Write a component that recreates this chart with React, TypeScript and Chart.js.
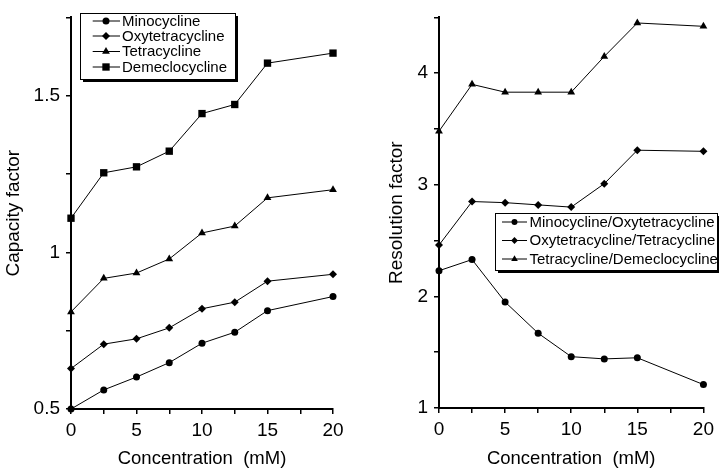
import React, { useEffect, useRef } from 'react';
import { Chart, registerables } from 'chart.js';
import { drawPoint } from 'chart.js/helpers';

Chart.register(...registerables);

// ---- data ----
const concentration = [0, 2.5, 5, 7.5, 10, 12.5, 15, 20];

const minocycline = [0.5, 0.561, 0.602, 0.648, 0.71, 0.745, 0.814, 0.859];
const oxytetracycline = [0.629, 0.707, 0.724, 0.759, 0.82, 0.841, 0.908, 0.93];
const tetracycline = [0.81, 0.917, 0.934, 0.979, 1.062, 1.084, 1.174, 1.2];
const demeclocycline = [1.109, 1.254, 1.273, 1.323, 1.443, 1.472, 1.604, 1.636];

const minoOxy = [2.23, 2.33, 1.95, 1.67, 1.46, 1.44, 1.45, 1.21];
const oxyTetra = [2.46, 2.85, 2.84, 2.82, 2.8, 3.01, 3.31, 3.3];
const tetraDeme = [3.48, 3.9, 3.83, 3.83, 3.83, 4.15, 4.45, 4.42];

const leftLabels = ['Minocycline', 'Oxytetracycline', 'Tetracycline', 'Demeclocycline'];
const rightLabels = ['Minocycline/Oxytetracycline', 'Oxytetracycline/Tetracycline', 'Tetracycline/Demeclocycline'];

const xTitle = 'Concentration  (mM)';
const leftYTitle = 'Capacity factor';
const rightYTitle = 'Resolution factor';

const FONT = '"Liberation Sans", Arial, Helvetica, sans-serif';

const pts = (ys: number[]) => concentration.map((x, i) => ({ x, y: ys[i] }));

function ds(label: string, ys: number[], style: string, radius: number) {
  return {
    label,
    data: pts(ys),
    borderColor: '#000',
    borderWidth: 1,
    backgroundColor: '#000',
    pointBackgroundColor: '#000',
    pointBorderColor: '#000',
    pointBorderWidth: 0,
    pointStyle: style,
    pointRadius: radius,
    tension: 0,
    clip: false as any,
  };
}

function legendPlugin(box: any) {
  return {
    id: 'boxLegend',
    afterDraw(chart: any) {
      const ctx = chart.ctx as CanvasRenderingContext2D;
      ctx.save();
      ctx.fillStyle = '#000';
      ctx.fillRect(box.x + 3, box.y + 3, box.w, box.h);
      ctx.fillStyle = '#fff';
      ctx.fillRect(box.x, box.y, box.w, box.h);
      ctx.strokeStyle = '#000';
      ctx.lineWidth = 1;
      ctx.strokeRect(box.x + 0.5, box.y + 0.5, box.w, box.h);
      chart.data.datasets.forEach((d: any, i: number) => {
        const y = box.y + box.rows[i];
        ctx.strokeStyle = '#000';
        ctx.lineWidth = 1;
        ctx.beginPath();
        ctx.moveTo(box.x + box.lineFrom, y);
        ctx.lineTo(box.x + box.lineTo, y);
        ctx.stroke();
        ctx.fillStyle = '#000';
        drawPoint(ctx, { pointStyle: d.pointStyle, radius: d.pointRadius * box.markerScale, borderWidth: 0, rotation: 0 } as any, box.x + box.marker, y);
        ctx.fillStyle = '#000';
        ctx.font = `15px ${FONT}`;
        ctx.textBaseline = 'middle';
        ctx.textAlign = 'left';
        ctx.fillText(d.label, box.x + box.text, y + 0.5);
      });
      ctx.restore();
    },
  };
}

function xScale(height: number) {
  return {
    type: 'linear',
    min: 0,
    max: 20,
    afterFit: (s: any) => { s.height = height; },
    ticks: {
      stepSize: 2.5,
      autoSkip: false,
      maxRotation: 0,
      color: '#000',
      padding: 5,
      font: { family: FONT, size: 19 },
      callback: (v: any) => (Number(v) % 5 === 0 ? String(v) : ''),
    },
    grid: { display: true, drawOnChartArea: false, drawTicks: true, tickLength: 5, color: '#000', lineWidth: 1.5 },
    border: { display: true, color: '#000', width: 2 },
    title: { display: true, text: xTitle, color: '#000', font: { family: FONT, size: 18.5, lineHeight: 1 }, padding: { top: 0, bottom: 0 } },
  };
}

function yScale(min: number, max: number, step: number, labelEvery: number, title: string, titlePad: number, width: number) {
  return {
    type: 'linear',
    min,
    max,
    afterFit: (s: any) => { s.width = width; },
    ticks: {
      stepSize: step,
      autoSkip: false,
      color: '#000',
      padding: 6,
      font: { family: FONT, size: 19 },
      callback: (v: any) => {
        const r = Number(v) / labelEvery;
        return Math.abs(r - Math.round(r)) < 1e-9 ? String(v) : '';
      },
    },
    grid: { display: true, drawOnChartArea: false, drawTicks: true, tickLength: 5, color: '#000', lineWidth: 1.5 },
    border: { display: true, color: '#000', width: 2 },
    title: { display: true, text: title, color: '#000', font: { family: FONT, size: 19, lineHeight: 1 }, padding: { top: titlePad, bottom: 0 } },
  };
}

export default function App() {
  const leftRef = useRef<HTMLCanvasElement>(null);
  const rightRef = useRef<HTMLCanvasElement>(null);

  useEffect(() => {
    const c1 = new Chart(leftRef.current as HTMLCanvasElement, {
      type: 'line',
      data: {
        datasets: [
          ds(leftLabels[0], minocycline, 'circle', 3.5),
          ds(leftLabels[1], oxytetracycline, 'rectRot', 4),
          ds(leftLabels[2], tetracycline, 'triangle', 4.5),
          ds(leftLabels[3], demeclocycline, 'rect', 5.2),
        ] as any,
      },
      options: {
        responsive: false,
        animation: false,
        devicePixelRatio: 1,
        layout: { padding: { left: 0, right: 27, top: 13, bottom: 0 } },
        plugins: { legend: { display: false }, tooltip: { enabled: false } },
        scales: {
          x: xScale(59) as any,
          y: yScale(0.5, 1.75, 0.25, 0.5, leftYTitle, 4.5, 71) as any,
        },
      },
      plugins: [legendPlugin({ x: 80, y: 13, w: 155, h: 66, rows: [8, 23, 38.5, 54], lineFrom: 12.7, lineTo: 40, marker: 26, text: 42, markerScale: 1 })],
    });

    const c2 = new Chart(rightRef.current as HTMLCanvasElement, {
      type: 'line',
      data: {
        datasets: [
          ds(rightLabels[0], minoOxy, 'circle', 3.5),
          ds(rightLabels[1], oxyTetra, 'rectRot', 4),
          ds(rightLabels[2], tetraDeme, 'triangle', 4.5),
        ] as any,
      },
      options: {
        responsive: false,
        animation: false,
        devicePixelRatio: 1,
        layout: { padding: { left: 0, right: 11, top: 12, bottom: 0 } },
        plugins: { legend: { display: false }, tooltip: { enabled: false } },
        scales: {
          x: xScale(60) as any,
          y: yScale(1, 4.5, 0.5, 1, rightYTitle, 27.5, 79) as any,
        },
      },
      plugins: [legendPlugin({ x: 135, y: 213, w: 222, h: 57, rows: [9, 27.5, 46], lineFrom: 7, lineTo: 32, marker: 19.5, text: 34.5, markerScale: 0.85 })],
    });

    return () => {
      c1.destroy();
      c2.destroy();
    };
  }, []);

  return (
    <div style={{ position: 'fixed', left: 0, top: 0, width: 719, height: 468, background: '#fff' }}>
      <canvas ref={leftRef} width={360} height={468} style={{ position: 'absolute', left: 0, top: 0, width: 360, height: 468 }} />
      <canvas ref={rightRef} width={359} height={468} style={{ position: 'absolute', left: 360, top: 0, width: 359, height: 468 }} />
    </div>
  );
}
